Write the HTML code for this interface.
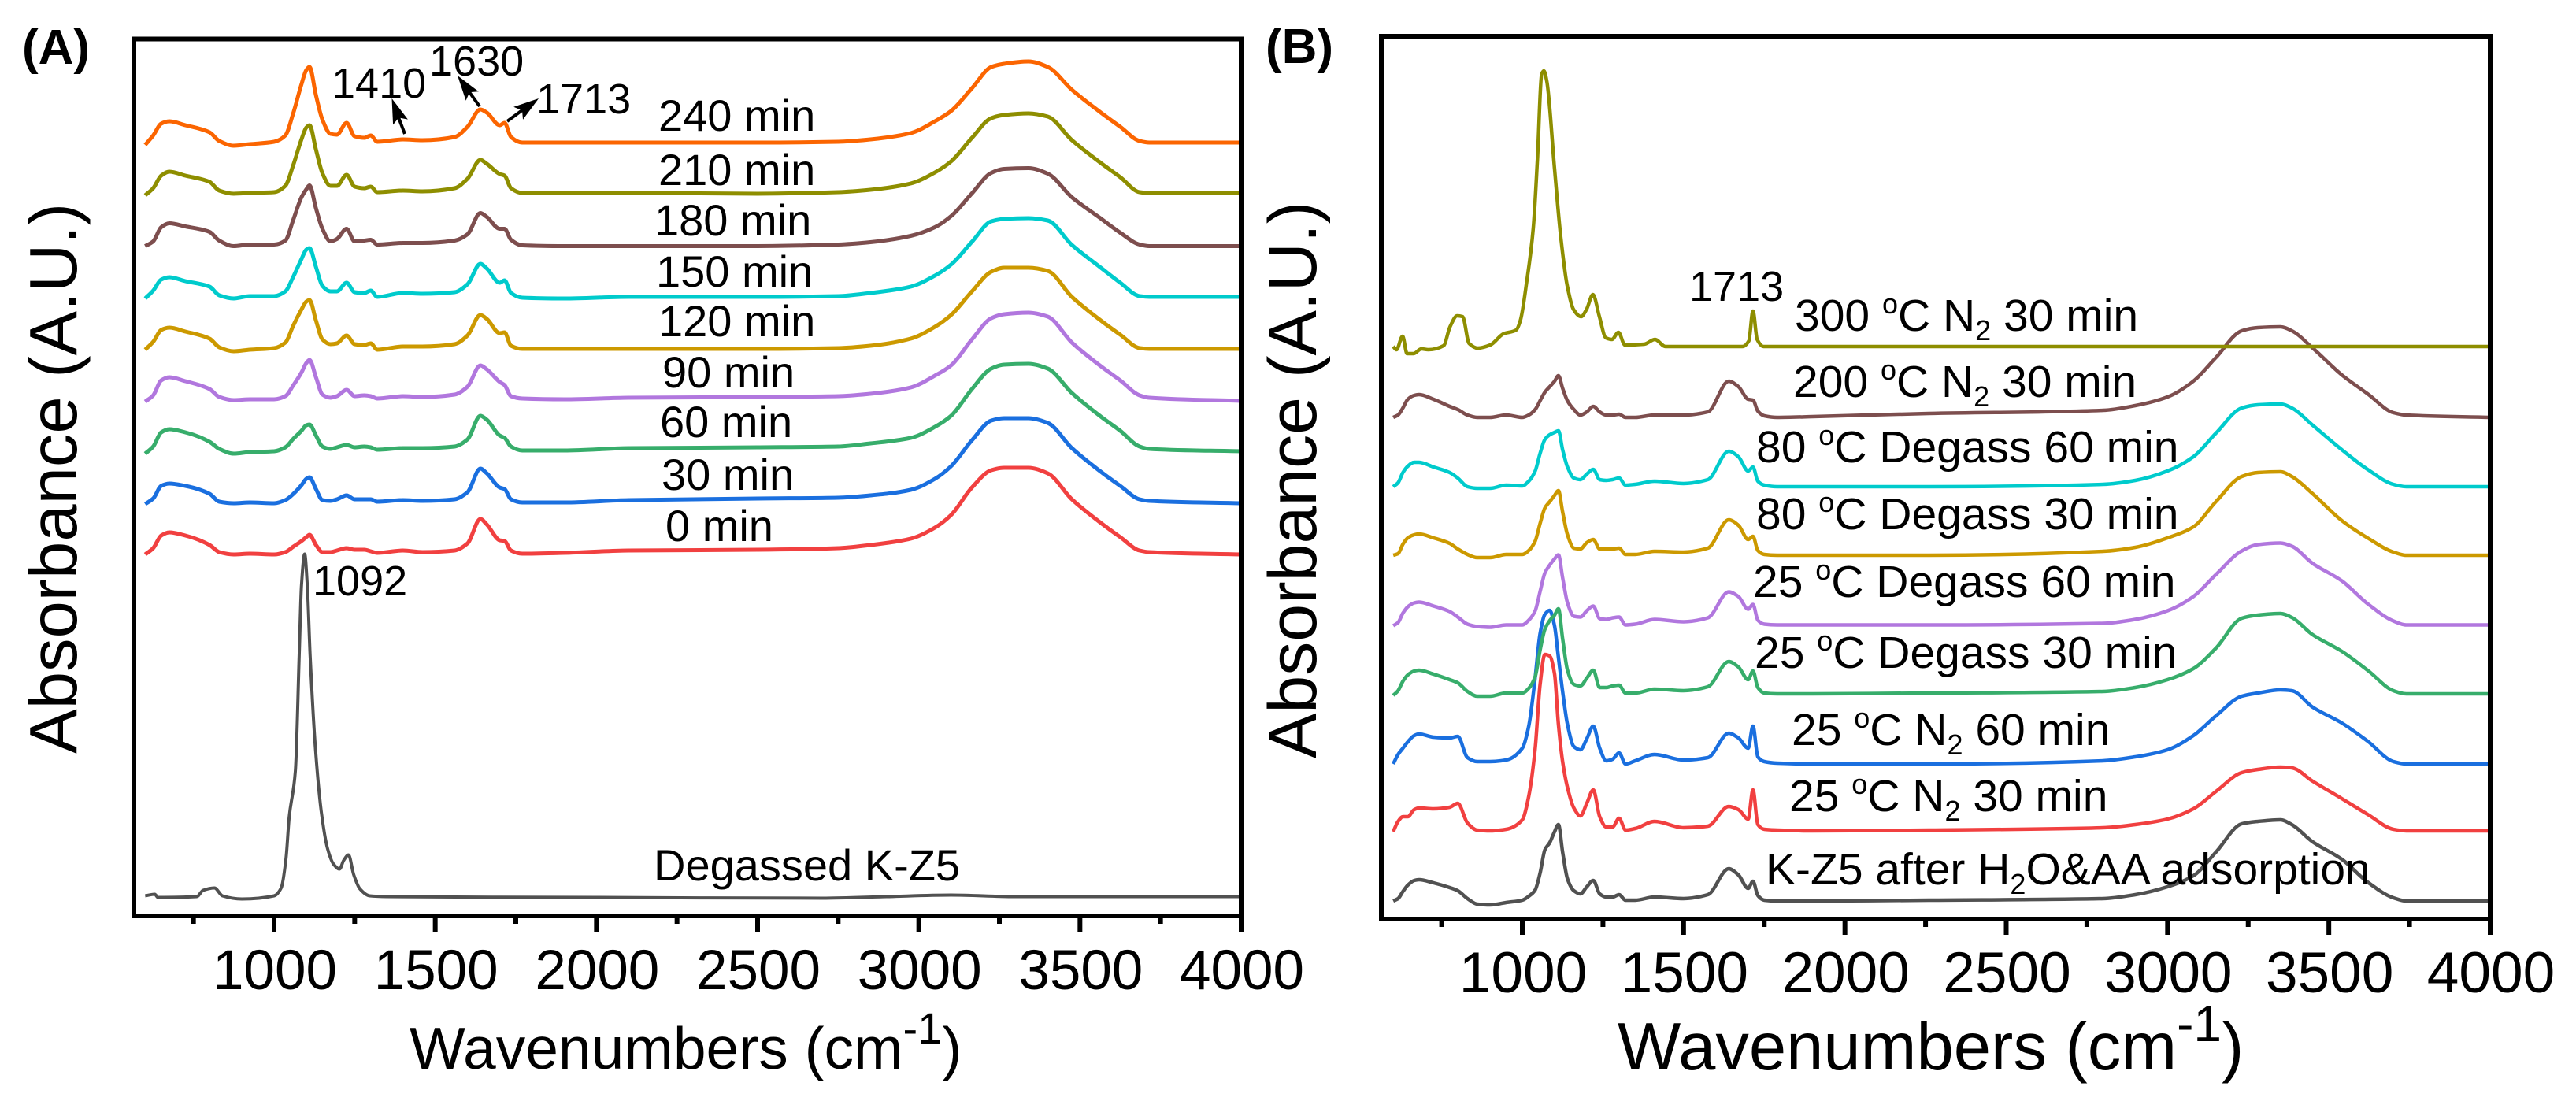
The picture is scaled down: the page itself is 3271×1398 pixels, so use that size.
<!DOCTYPE html>
<html>
<head>
<meta charset="utf-8">
<title>FTIR spectra of K-Z5</title>
<style>
html,body{margin:0;padding:0;background:#fff;}
svg{display:block;}
text{font-family:"Liberation Sans",Arial,sans-serif;fill:#000;}
.ann{font-size:54px;}
.lab{font-size:56px;}
.labb{font-size:57px;}
</style>
</head>
<body>
<svg id="chart" xmlns="http://www.w3.org/2000/svg" width="3271" height="1398" viewBox="0 0 3271 1398">
  <g id="panelA"></g>
  <g id="panelB"></g>

  <text x="28" y="81" font-size="62" font-weight="bold">(A)</text>
  <text x="1607" y="80" font-size="62" font-weight="bold">(B)</text>

  <text transform="translate(97,957) rotate(-90)" font-size="85">Absorbance (A.U.)</text>
  <text transform="translate(1671,963) rotate(-90)" font-size="86">Absorbance (A.U.)</text>

  <text x="520" y="1357" font-size="75">Wavenumbers (cm<tspan font-size="56" dy="-32">-1</tspan><tspan dy="32">)</tspan></text>
  <text x="2054" y="1358" font-size="85">Wavenumbers (cm<tspan font-size="64" dy="-36">-1</tspan><tspan dy="36">)</tspan></text>

  <g class="lab">
    <text x="836" y="166">240 min</text>
    <text x="836" y="235">210 min</text>
    <text x="831" y="299">180 min</text>
    <text x="833" y="364">150 min</text>
    <text x="836" y="427">120 min</text>
    <text x="841" y="492">90 min</text>
    <text x="838" y="555">60 min</text>
    <text x="840" y="622">30 min</text>
    <text x="845" y="687">0 min</text>
    <text x="830" y="1118">Degassed K-Z5</text>
  </g>

  <g class="ann">
    <text x="421" y="124">1410</text>
    <text x="545" y="96">1630</text>
    <text x="681" y="144">1713</text>
    <text x="397" y="756">1092</text>
  </g>
  <g fill="#000" stroke="#000">
    <g>
      <line x1="514" y1="170" x2="506" y2="149" stroke-width="4"/>
      <polygon points="497.5,125 517.9,151.6 506.4,149.4 499.1,158.4" stroke="none"/>
    </g>
    <g>
      <line x1="609" y1="135" x2="596" y2="117" stroke-width="4"/>
      <polygon points="581,96 607.8,116.2 596.2,117.1 591.6,127.8" stroke="none"/>
    </g>
    <g>
      <line x1="644" y1="154" x2="663" y2="140" stroke-width="4"/>
      <polygon points="684,125 664,151.9 663,140.3 652.2,135.7" stroke="none"/>
    </g>
  </g>

  <g class="labb">
    <text x="2145" y="382" font-size="54">1713</text>
    <text x="2279" y="420">300 <tspan font-size="36" dy="-22">o</tspan><tspan dy="22">C N</tspan><tspan font-size="36" dy="12">2</tspan><tspan dy="-12"> 30 min</tspan></text>
    <text x="2277" y="504">200 <tspan font-size="36" dy="-22">o</tspan><tspan dy="22">C N</tspan><tspan font-size="36" dy="12">2</tspan><tspan dy="-12"> 30 min</tspan></text>
    <text x="2230" y="587">80 <tspan font-size="36" dy="-22">o</tspan><tspan dy="22">C Degass 60 min</tspan></text>
    <text x="2230" y="672">80 <tspan font-size="36" dy="-22">o</tspan><tspan dy="22">C Degass 30 min</tspan></text>
    <text x="2226" y="758">25 <tspan font-size="36" dy="-22">o</tspan><tspan dy="22">C Degass 60 min</tspan></text>
    <text x="2228" y="848">25 <tspan font-size="36" dy="-22">o</tspan><tspan dy="22">C Degass 30 min</tspan></text>
    <text x="2275" y="946">25 <tspan font-size="36" dy="-22">o</tspan><tspan dy="22">C N</tspan><tspan font-size="36" dy="12">2</tspan><tspan dy="-12"> 60 min</tspan></text>
    <text x="2272" y="1030">25 <tspan font-size="36" dy="-22">o</tspan><tspan dy="22">C N</tspan><tspan font-size="36" dy="12">2</tspan><tspan dy="-12"> 30 min</tspan></text>
    <text x="2242" y="1123">K-Z5 after H<tspan font-size="36" dy="12">2</tspan><tspan dy="-12">O&amp;AA adsorption</tspan></text>
  </g>
</svg>

<script>
// ---------- Shared tick data ----------
const majorTicks = [1000, 1500, 2000, 2500, 3000, 3500, 4000];
const minorTicks = [750, 1250, 1750, 2250, 2750, 3250, 3750];

// ---------- Panel A data: signal above each spectrum's own baseline (milli A.U.) ----------
const wavenumbersA = [600,625,650,675,725, 800,830,875,925,1000, 1035,1060,1085,1100,1110, 1130,1150,1175,1195,1225, 1250,1280,1300,1320,1400, 1460,1560,1600,1640,1660, 1700,1715,1735,1770,1900, 2100,2500,2750,2850,2975, 3050,3100,3165,3225,3265, 3340,3400,3475,3565,3625, 3685,3715,4000];
const min240 = [-3,9,24,27,22, 13,2,-4,-2,1, 9,38,74,92,96, 60,29,11,10,25, 8,6,9,1,4, 3,7,20,42,38, 22,25,7,0,0, 0,0,1,4,12, 27,40,69,96,100, 103,96,67,38,20, 2,0,0];
const min210 = [-3,6,22,27,22, 14,3,-1,0,1, 9,36,68,83,86, 55,25,9,9,23, 8,6,8,1,3, 2,6,18,42,37, 24,22,6,0,0, 0,-1,1,4,12, 26,40,70,95,99, 101,97,67,38,20, 1,0,0];
const min180 = [0,6,24,29,25, 18,7,0,2,2, 7,34,62,72,77, 48,22,6,9,22, 6,7,8,2,4, 4,7,15,42,37, 22,22,8,1,0, 0,0,2,5,13, 24,38,67,93,98, 99,92,62,35,17, 2,0,0];
const min150 = [-2,8,22,25,20, 13,2,-2,1,1, 7,26,48,60,62, 38,14,7,7,18, 6,5,8,0,5, 4,6,16,42,36, 18,21,5,-1,-2, 0,0,1,5,13, 27,41,70,96,99, 100,97,66,37,18, 1,0,0];
const min120 = [-1,9,24,27,22, 13,2,-3,-1,1, 8,30,50,60,62, 36,12,6,7,17, 6,5,7,-1,3, 3,6,17,43,38, 20,21,4,0,0, 0,0,1,4,13, 28,43,73,98,103, 103,99,66,36,18, 1,0,0];
const min90 = [-1,7,26,30,25, 15,5,1,2,2, 6,20,36,48,52, 30,8,4,6,14, 6,7,6,3,6, 5,8,18,45,40, 24,20,6,3,2, 4,5,6,9,17, 32,45,78,105,110, 112,107,74,44,26, 7,4,0];
const min60 = [-3,6,24,28,24, 12,3,-3,-1,0, 5,16,26,33,34, 20,6,3,5,8, 5,6,5,2,4, 4,6,15,45,40, 20,17,6,1,1, 4,5,6,10,17, 31,45,79,105,110, 111,105,74,44,26, 6,3,0];
const min30 = [-1,6,22,25,22, 12,2,0,1,0, 4,12,23,31,33, 18,4,3,5,10, 5,5,5,2,4, 3,5,14,44,38, 20,18,5,1,1, 4,6,7,10,17, 31,47,80,105,108, 108,102,70,40,22, 5,3,0];
const min0 = [0,8,24,28,24, 12,3,0,1,0, 3,10,17,22,25, 12,3,3,5,8, 6,6,4,2,5, 3,5,14,45,38, 18,17,5,1,2, 5,6,8,12,20, 34,50,85,107,110, 110,103,70,40,22, 5,3,0];
const baselinesA = [982, 918, 850.5, 786, 720, 654, 590, 524, 459];
const namesA = ['240-min','210-min','180-min','150-min','120-min','90-min','60-min','30-min','0-min'];

const wavenumbersDegassed = [600,630,640,760,780, 815,840,900,1000,1022, 1037,1047,1066,1078,1085, 1095,1103,1112,1128,1147, 1166,1185,1203,1216,1231, 1247,1266,1297,1350,2000, 2700,2900,3100,3300,4000];
const degassed = [1,3,-1,0,8, 11,1,-3,1,11, 48,101,159,306,395, 435,395,306,190,106, 61,41,35,46,53, 28,10,1,0,-1, -2,0,2,0,0];
const baselineDegassed = 24.5;

// ---------- Panel B data ----------
const wavenumbersB = [600,615,630,645,665, 680,725,775,800,830, 860,900,950,1000,1020, 1040,1055,1070,1085,1100, 1112,1125,1140,1160,1180, 1200,1220,1240,1260,1280, 1300,1320,1350,1410,1500, 1575,1640,1670,1700,1715, 1730,1750,1790,1900,2260, 2800,2900,3000,3080,3150, 3230,3280,3350,3385,3450, 3540,3620,3700,3740,4000];
const afterAdsorption = [0,3,12,20,26, 27,23,17,13,3, -4,-5,-2,1,6, 14,35,65,74,88, 97,62,28,13,9, 18,26,9,5,5, 8,1,1,5,3, 8,41,33,16,25, 7,1,0,0,1, 3,8,18,32,62, 98,101,103,97,75, 53,24,4,0,0];
const n2Min30 = [-1,12,18,18,27, 29,28,30,35,10, 1,0,2,14,44, 105,185,224,222,199, 135,88,55,29,19, 35,52,18,5,5, 16,1,3,12,4, 6,31,27,15,52, 8,2,1,0,1, 4,8,15,28,50, 74,78,81,80,63, 41,21,2,0,0];
const n2Min60 = [0,12,20,28,36, 38,34,33,35,8, 3,3,5,20,48, 110,165,190,195,175, 135,92,50,22,18, 32,48,20,4,6, 14,0,4,12,5, 8,39,33,20,48, 9,3,1,0,0, 4,9,18,36,61, 86,90,94,93,72, 52,29,3,0,0];
const degas25Min30 = [-2,4,16,24,29, 30,25,18,14,3, -3,-3,1,1,7, 22,55,82,93,100, 108,70,30,12,10, 20,30,8,8,10, 11,1,1,6,4, 9,41,34,18,29, 8,1,0,0,1, 3,8,18,32,58, 96,100,102,97,75, 54,30,4,0,0];
const degas25Min60 = [-1,3,15,23,28, 29,24,17,10,1, -2,-3,0,0,6, 18,42,66,76,84, 89,60,28,11,10, 18,24,8,7,9, 10,0,1,7,4, 9,42,36,20,26, 6,1,0,0,0, 2,7,18,36,64, 94,102,104,100,78, 56,27,5,0,0];
const degas80Min30 = [0,2,14,22,26, 27,22,15,8,1, -3,-3,1,1,6, 18,40,60,68,76, 82,55,26,9,8, 16,20,8,8,8, 9,1,1,5,4, 9,45,38,20,24, 6,1,0,0,0, 5,10,22,36,68, 100,105,106,100,78, 44,22,4,0,0];
const degas80Min60 = [0,5,18,26,31, 31,25,18,11,0, -2,-2,2,1,7, 20,42,60,66,69, 71,47,25,11,9, 16,22,9,8,9, 11,2,3,7,4, 9,45,38,20,25, 7,2,0,0,0, 3,8,20,38,68, 100,104,105,100,78, 47,22,3,0,0];
const n2C200 = [0,3,12,23,28, 29,23,14,10,3, 0,0,3,0,3, 10,21,32,39,46, 53,37,21,10,3, 7,14,7,3,3, 4,0,0,3,3, 7,46,39,23,22, 8,2,0,1,5, 9,15,26,46,76, 110,114,115,110,88, 54,30,6,3,0];
const baselinesB = [23, 112, 197, 286, 373.5, 462, 549, 637];
const namesB = ['after-adsorption','25c-n2-30','25c-n2-60','25c-degass-30','25c-degass-60','80c-degass-30','80c-degass-60','200c-n2-30'];

const wavenumbersC300 = [600,610,629,643,663, 687,709,756,776,798, 815,835,862,901,941, 981,994,1014,1034,1047, 1060,1067,1076,1100,1120, 1139,1159,1182,1199,1219, 1239,1259,1278,1298,1318, 1378,1411,1444,1536,1682, 1702,1715,1728,1748,2500, 4000];
const n2C300 = [0,-4,13,-9,-9, -3,-4,1,25,39, 38,4,-2,2,16, 21,33,83,150,239, 346,350,337,225,136, 78,47,38,47,66, 38,11,9,18,2, 3,9,0,0,0, 7,45,9,0,0, 0];
const baselineC300 = 727;

// ---------- Series groupings & palette (styles kept apart from data) ----------
const seriesA = [min240, min210, min180, min150, min120, min90, min60, min30, min0];
const seriesB = [afterAdsorption, n2Min30, n2Min60, degas25Min30, degas25Min60, degas80Min30, degas80Min60, n2C200];
const paletteA = ['#fb6501','#8e8e00','#7d4e4e','#00cbcc','#cc9900','#b177de','#37ad6b','#1a6fdf','#f14040'];
const paletteB = ['#515151','#f14040','#1a6fdf','#37ad6b','#b177de','#cc9900','#00cbcc','#7d4e4e'];

const SVGNS = 'http://www.w3.org/2000/svg';

function makeAxes(frame) {
  const pxPerWave = (frame.right - frame.x1000) / 3000;
  return {
    x: function (w) { return frame.x1000 + (w - 1000) * pxPerWave; },
    y: function (v) { return frame.bottom - v; }
  };
}

// Monotone cubic path through mapped data points
function pathFor(axes, waves, values, baseline) {
  const n = waves.length;
  const xs = [], ys = [];
  for (let i = 0; i < n; i++) {
    xs.push(axes.x(waves[i]));
    ys.push(axes.y(baseline + values[i]));
  }
  const slope = [];
  for (let i = 0; i < n - 1; i++) slope.push((ys[i + 1] - ys[i]) / (xs[i + 1] - xs[i]));
  const m = [slope[0]];
  for (let i = 1; i < n - 1; i++) {
    if (slope[i - 1] * slope[i] <= 0) { m.push(0); continue; }
    const h0 = xs[i] - xs[i - 1], h1 = xs[i + 1] - xs[i];
    const w1 = 2 * h1 + h0, w2 = h1 + 2 * h0;
    m.push((w1 + w2) / (w1 / slope[i - 1] + w2 / slope[i]));
  }
  m.push(slope[n - 2]);
  let d = 'M' + xs[0].toFixed(1) + ' ' + ys[0].toFixed(1);
  for (let i = 0; i < n - 1; i++) {
    const h = (xs[i + 1] - xs[i]) / 3;
    d += 'C' + (xs[i] + h).toFixed(1) + ' ' + (ys[i] + m[i] * h).toFixed(1) + ' ' +
         (xs[i + 1] - h).toFixed(1) + ' ' + (ys[i + 1] - m[i + 1] * h).toFixed(1) + ' ' +
         xs[i + 1].toFixed(1) + ' ' + ys[i + 1].toFixed(1);
  }
  return d;
}

function drawSeries(group, axes, waves, values, baseline, color, width, name) {
  const p = document.createElementNS(SVGNS, 'path');
  p.setAttribute('d', pathFor(axes, waves, values, baseline));
  p.setAttribute('fill', 'none');
  p.setAttribute('stroke', color);
  p.setAttribute('stroke-width', width);
  p.setAttribute('stroke-linejoin', 'round');
  p.setAttribute('stroke-linecap', 'butt');
  
  
  group.appendChild(p);
}

function drawFrame(group, frame, axes, sw, labelSize, labelBaseline) {
  const r = document.createElementNS(SVGNS, 'rect');
  r.setAttribute('x', frame.left);
  r.setAttribute('y', frame.top);
  r.setAttribute('width', frame.right - frame.left);
  r.setAttribute('height', frame.bottom - frame.top);
  r.setAttribute('fill', 'none');
  r.setAttribute('stroke', '#000');
  r.setAttribute('stroke-width', sw);
  
  
  group.appendChild(r);

  for (let i = 0; i < majorTicks.length; i++) {
    const t = document.createElementNS(SVGNS, 'line');
    const px = axes.x(majorTicks[i]);
    t.setAttribute('x1', px);
    t.setAttribute('x2', px);
    t.setAttribute('y1', frame.bottom);
    t.setAttribute('y2', frame.bottom + 20);
    t.setAttribute('stroke', '#000');
    t.setAttribute('stroke-width', 6);
    
    
    group.appendChild(t);

    const lab = document.createElementNS(SVGNS, 'text');
    lab.setAttribute('x', px + 1);
    lab.setAttribute('y', labelBaseline);
    lab.setAttribute('text-anchor', 'middle');
    lab.setAttribute('font-size', labelSize);
    
    
    lab.textContent = String(majorTicks[i]);
    group.appendChild(lab);
  }
  for (let i = 0; i < minorTicks.length; i++) {
    const t = document.createElementNS(SVGNS, 'line');
    const px = axes.x(minorTicks[i]);
    t.setAttribute('x1', px);
    t.setAttribute('x2', px);
    t.setAttribute('y1', frame.bottom);
    t.setAttribute('y2', frame.bottom + 10);
    t.setAttribute('stroke', '#000');
    t.setAttribute('stroke-width', 6);
    
    
    group.appendChild(t);
  }
}

// Panel A
const frameA = { left: 170, right: 1576, top: 49.5, bottom: 1163, x1000: 348 };
const axesA = makeAxes(frameA);
const groupA = document.getElementById('panelA');
drawSeries(groupA, axesA, wavenumbersDegassed, degassed, baselineDegassed, '#515151', 4, 'degassed-k-z5');
for (let i = 0; i < seriesA.length; i++) {
  drawSeries(groupA, axesA, wavenumbersA, seriesA[i], baselinesA[i], paletteA[i], 5, namesA[i]);
}
drawFrame(groupA, frameA, axesA, 6, 71, 1256);

// Panel B
const frameB = { left: 1754, right: 3162, top: 46, bottom: 1167, x1000: 1933 };
const axesB = makeAxes(frameB);
const groupB = document.getElementById('panelB');
for (let i = 0; i < seriesB.length; i++) {
  drawSeries(groupB, axesB, wavenumbersB, seriesB[i], baselinesB[i], paletteB[i], 4.5, namesB[i]);
}
drawSeries(groupB, axesB, wavenumbersC300, n2C300, baselineC300, '#8e8e00', 4.5, '300c-n2-30');
drawFrame(groupB, frameB, axesB, 6, 73, 1260);
</script>
</body>
</html>
